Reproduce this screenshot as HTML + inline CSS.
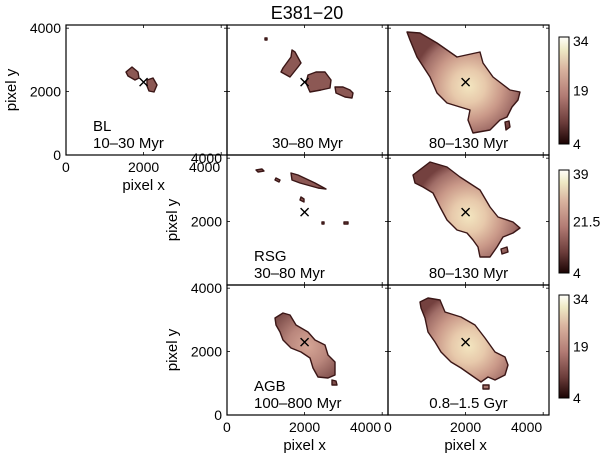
<!DOCTYPE html>
<html><head><meta charset="utf-8"><style>
body{margin:0;background:#fff}
svg{display:block;font-family:"Liberation Sans",Arial,sans-serif}
</style></head><body>
<svg id="fig" width="600" height="458" viewBox="0 0 600 458">
<defs>
<linearGradient id="cmap" x1="0" y1="1" x2="0" y2="0">
<stop offset="0" stop-color="#1a0303"/><stop offset="0.2" stop-color="#6b3c3a"/><stop offset="0.45" stop-color="#b27b74"/>
<stop offset="0.7" stop-color="#d9b39f"/><stop offset="0.88" stop-color="#eee9c4"/><stop offset="1" stop-color="#fffffa"/>
</linearGradient>
</defs>
<text x="307" y="19" font-size="18" text-anchor="middle">E381−20</text>
<g id="panels"></g>
</svg>
<script>
const ns="http://www.w3.org/2000/svg";
const fig=document.getElementById('panels');
// axis & data
const xMax=4150, yMax=4100;
const tickVals=[0,2000,4000];
const centerX=2000, centerY=2300;
const cbTop=[34,39,34];
const cbMid=[19,21.5,19];
const cbMin=[4,4,4];
const panelLabels=[["BL","10–30 Myr"],["","30–80 Myr"],["","80–130 Myr"],["RSG","30–80 Myr"],["","80–130 Myr"],["AGB","100–800 Myr"],["","0.8–1.5 Gyr"]];
const colX=[66,227,388,549], rowY=[25,155,285,415];
const panels=[[0,0],[0,1],[0,2],[1,1],[1,2],[2,1],[2,2]];
function sx(c,v){return colX[c]+v/xMax*(colX[c+1]-colX[c]);}
function sy(r,v){return rowY[r+1]-v/yMax*(rowY[r+1]-rowY[r]);}
function mk(t,a,p){const e=document.createElementNS(ns,t);for(const k in a)e.setAttribute(k,a[k]);(p||fig).appendChild(e);return e;}
// blob shapes (pixel outlines)
const blobs={
 "0,0":[[[126,72],[132,67],[138,72],[139,78],[135,80],[128,76]],[[147,80],[153,78],[157,85],[154,92],[149,91],[147,86]]],
 "0,1":[[[283,68],[291,57],[292,50],[295,52],[301,63],[298,67],[290,77],[281,72]],[[308,75],[316,72],[325,72],[331,80],[330,88],[321,90],[310,92],[306,83]],[[335,87],[343,87],[350,90],[353,93],[352,98],[345,97],[336,93]],[[265,38],[267,38],[267,40],[265,40]]],
 "0,2":[[[407,32],[420,33],[437,43],[457,57],[480,52],[483,63],[493,77],[510,90],[520,92],[518,100],[512,107],[507,117],[500,120],[493,127],[490,130],[473,133],[468,120],[470,110],[460,107],[447,103],[437,93],[430,77],[417,57],[410,40]],[[505,122],[509,121],[510,127],[506,130]]],
 "1,1":[[[256,170],[262,169],[264,171],[258,172]],[[276,178],[280,180],[279,182],[275,180]],[[291,173],[298,175],[315,183],[326,189],[318,188],[300,183],[292,180]],[[301,197],[304,199],[304,202],[300,200]],[[322,222],[324,222],[324,224],[322,224]],[[344,222],[348,222],[348,224],[344,224]]],
 "1,2":[[[413,175],[430,162],[447,167],[460,177],[480,190],[490,207],[498,217],[513,222],[520,228],[513,233],[503,237],[497,247],[490,257],[480,257],[478,247],[473,240],[467,233],[457,230],[447,220],[440,207],[433,193],[423,187],[415,183]],[[501,249],[507,247],[508,252],[502,254]]],
 "2,1":[[[275,318],[283,313],[290,315],[296,325],[308,332],[315,340],[325,345],[328,355],[335,362],[335,375],[328,378],[318,377],[313,368],[310,358],[301,352],[291,348],[283,340],[280,332],[276,325]],[[332,380],[336,381],[337,385],[332,385]]],
 "2,2":[[[420,302],[428,298],[440,300],[445,312],[461,317],[475,325],[485,338],[495,352],[505,357],[508,365],[505,375],[495,380],[488,377],[481,382],[471,375],[461,368],[451,362],[441,352],[435,342],[428,332],[425,318],[421,308]],[[483,385],[489,385],[489,389],[483,389]]]
};
const bright={"0,2":1,"1,2":1,"2,2":1,"2,1":0.5};
panels.forEach(([r,c],i)=>{
 const x0=colX[c],x1=colX[c+1],y0=rowY[r],y1=rowY[r+1];
 const g=mk('g',{});
 
 
 const key=r+","+c;
 const cx=sx(c,centerX), cy=sy(r,centerY);
 let fill="#8c5854";
 if(bright[key]){
  const gid='rg'+i;
  const rg=mk('radialGradient',{id:gid,gradientUnits:'userSpaceOnUse',cx:cx+3,cy:cy+4,r:bright[key]==1?56:40},document.querySelector('defs'));
  const st=bright[key]==1?[[0,"#f3e6c0"],[0.3,"#e7c9ab"],[0.6,"#c99888"],[0.85,"#a06d67"],[1,"#74413f"]]:[[0,"#d6a696"],[0.5,"#b9867c"],[1,"#7e4e4b"]];
  st.forEach(s=>mk('stop',{offset:s[0],'stop-color':s[1]},rg));
  fill=`url(#${gid})`;
 }
 (blobs[key]||[]).forEach((pts,j)=>{
  const p=mk('polygon',{points:pts.map(q=>q.join(',')).join(' '),fill:fill,stroke:'#3a1616','stroke-width':1.4,'stroke-linejoin':'round'},g);
  
  
 });
 const m=mk('path',{d:`M${cx-4},${cy-4}L${cx+4},${cy+4}M${cx+4},${cy-4}L${cx-4},${cy+4}`,stroke:'#000','stroke-width':1.4},g);
 
 
 const fr=mk('rect',{x:x0,y:y0,width:x1-x0,height:y1-y0,fill:'none',stroke:'#000','stroke-width':1.2},g);
 
 
 tickVals.forEach(v=>{
  const tx=sx(c,v), ty=sy(r,v);
  mk('line',{x1:tx,y1:y1,x2:tx,y2:y1-3,stroke:'#000','stroke-width':0.8},g);
  mk('line',{x1:tx,y1:y0,x2:tx,y2:y0+3,stroke:'#000','stroke-width':0.8},g);
  mk('line',{x1:x0,y1:ty,x2:x0+3,y2:ty,stroke:'#000','stroke-width':0.8},g);
  mk('line',{x1:x1,y1:ty,x2:x1-3,y2:ty,stroke:'#000','stroke-width':0.8},g);
 });
 const lab=panelLabels[i];
 if(lab[0]){const t=mk('text',{x:x0+27,y:y1-24,'font-size':15},g);t.textContent=lab[0];}
 const t2=mk('text',{x:x0+(lab[0]?27:(x1-x0)/2),y:y1-7,'font-size':15,'text-anchor':lab[0]?'start':'middle'},g);
 t2.textContent=lab[1];
 
 
 if(c===0||(c===1&&r>0)){
  tickVals.forEach(v=>{if(r===1&&v===0)return;const t=mk('text',{x:x0-5,y:sy(r,v)+5,'font-size':14,'text-anchor':'end'},g);t.textContent=v;});
  const yl=mk('text',{x:0,y:0,'font-size':15,'text-anchor':'middle',transform:`translate(${x0-50},${(y0+y1)/2}) rotate(-90)`},g);
  yl.textContent='pixel y';
  
  
 }
 if((r===0&&c===0)||r===2){
  tickVals.forEach(v=>{const t=mk('text',{x:sx(c,v),y:y1+17,'font-size':14,'text-anchor':v===0?'start':(v===4000?'end':'middle')},g);if(v===0)t.setAttribute('x',sx(c,v)-4);if(v===4000)t.setAttribute('x',sx(c,v)-1);t.textContent=v;});
  const xl=mk('text',{x:sx(c,2000),y:y1+35,'font-size':15,'text-anchor':'middle'},g);
  xl.textContent='pixel x';
  
  
 }
});
const cbY=[[37,144],[170,273],[295,398]];
cbY.forEach(([t,b],k)=>{
 const g=mk('g',{});
 
 
 mk('rect',{x:559,y:t,width:10,height:b-t,fill:'url(#cmap)',stroke:'#000','stroke-width':1},g);
 [[cbTop[k],t+4],[cbMid[k],(t+b)/2],[cbMin[k],b]].forEach(([v,yy])=>{
  const tx=mk('text',{x:573,y:yy+5,'font-size':14},g);
  tx.textContent=v;
  
  
 });
});
</script>
</body></html>
